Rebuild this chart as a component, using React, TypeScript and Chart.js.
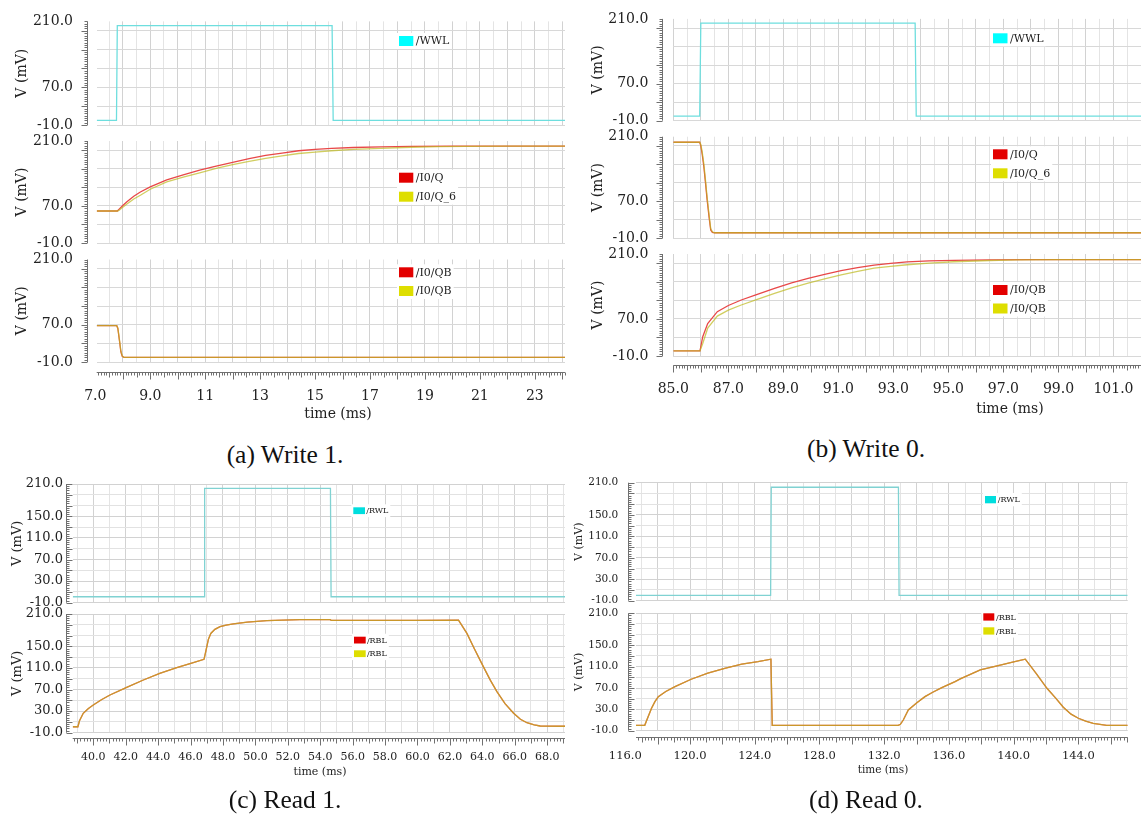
import React, { useEffect, useRef } from "react";
import { Chart, registerables } from "chart.js";

Chart.register(...registerables);
const SERIF = '"DejaVu Serif", serif';
Chart.defaults.font.family = SERIF;

// ================= DATA =================
// (a) Write 1
const A_WWL_T = [7.05, 7.77, 7.8, 15.62, 15.66, 24.1];
const A_WWL_V = [0, 0, 201, 201, 0, 0];
const A_Q_T = [7.05, 7.8, 7.85, 8.0, 8.15, 8.4, 8.64, 9.0, 9.6, 10.2, 10.8, 11.4, 12.0, 12.6, 13.2, 13.8, 14.4, 15.0, 15.6, 16.4, 17.4, 18.5, 20.0, 22.0, 24.1];
const A_Q_V = [59, 59, 62, 71, 79, 91, 100, 111, 126, 137, 147, 156, 164, 172, 179, 184, 189, 192, 194, 196, 197.5, 198.5, 199, 199, 199];
const A_Q6_T = [7.05, 7.8, 7.85, 8.0, 8.15, 8.4, 8.64, 9.0, 9.6, 10.2, 10.8, 11.4, 12.0, 12.6, 13.2, 13.8, 14.4, 15.0, 15.6, 16.4, 17.4, 18.5, 19.5, 20.5, 22.0, 24.1];
const A_Q6_V = [59, 59, 60, 67, 74, 85, 93, 106, 122, 132, 141.5, 151, 159, 166, 172.5, 178, 183, 186, 189, 192, 194, 196.5, 198, 198.5, 199, 199];
const A_QB_T = [7.05, 7.78, 7.82, 7.88, 7.93, 7.98, 8.04, 24.1];
const A_QB_V = [68, 68, 62, 35, 12, 2, 0, 0];
const A_QB2_V = [68, 68, 63, 37, 14, 3, 0, 0];

// (b) Write 0
const B_WWL_T = [85, 85.96, 86.0, 93.79, 93.83, 102];
const B_WWL_V = [0, 0, 201, 201, 0, 0];
const B_Q_T = [85, 85.96, 86.0, 86.05, 86.11, 86.17, 86.23, 86.3, 86.36, 86.42, 86.5, 102];
const B_Q_V = [198, 198, 190, 172, 145, 110, 73, 36, 8, 3, 2, 2];
const B_Q6_V = [198, 198, 193, 177, 151, 116, 79, 41, 11, 4, 2, 2];
const B_QB_T = [85, 85.97, 86.07, 86.25, 86.6, 87.0, 87.47, 88.0, 88.68, 89.3, 89.9, 90.5, 91.1, 91.7, 92.3, 92.9, 93.5, 94.3, 95.2, 96.5, 98.0, 100.0, 102];
const B_QB_V = [1, 1, 31.6, 60, 85.6, 99, 110.8, 122, 136, 147.5, 157.5, 166, 174, 180.5, 186, 190, 193, 195, 196.2, 197.5, 198, 198, 198];
const B_QB2_T = [85, 85.97, 86.07, 86.25, 86.6, 87.0, 87.47, 88.0, 88.68, 89.3, 89.9, 90.5, 91.1, 91.7, 92.3, 92.9, 93.5, 94.3, 95.2, 96.5, 97.5, 99.0, 102];
const B_QB2_V = [1, 1, 17, 50, 76, 89, 100, 111, 125, 137, 147, 156.5, 165, 172.5, 179.6, 183.5, 186.8, 190.5, 193.3, 196, 197.5, 198, 198];

// (c) Read 1
const C_RWL_T = [38.73, 46.83, 46.87, 54.63, 54.67, 69.1];
const C_RWL_V = [1, 1, 202, 202, 1, 1];
const C_RBL_T = [38.73, 39.05, 39.15, 39.38, 39.7, 40.0, 40.5, 41.03, 42.06, 43.09, 44.1, 45.15, 46.17, 46.83, 46.9, 47.0, 47.1, 47.25, 47.5, 47.82, 48.2, 48.64, 49.5, 50.7, 52.75, 54.62, 54.68, 56.0, 58.0, 60.0, 62.53, 63.05, 63.5, 64.07, 64.5, 64.9, 65.4, 65.93, 66.35, 66.75, 67.2, 67.57, 69.1];
const C_RBL_V = [1, 1, 12, 26, 35, 41.3, 51, 59.9, 74, 87.7, 100, 110.5, 119.7, 126, 135, 149, 163, 174, 181.5, 186.5, 189.5, 191.5, 195, 197.6, 199.5, 199.5, 198, 198, 198, 198, 198.5, 174, 146, 112, 87, 66, 44, 26, 15, 8.5, 4.5, 2.4, 2];

// (d) Read 0
const D_RWL_T = [116.66, 124.98, 125.02, 132.88, 132.92, 147.05];
const D_RWL_V = [0, 0, 201.5, 201.5, 0, 0];
const D_RBL_T = [116.66, 117.2, 117.41, 117.62, 117.83, 118.04, 118.5, 119.07, 120.07, 121.1, 122.14, 123.2, 124.2, 125.0, 125.04, 125.08, 132.87, 133.0, 133.18, 133.49, 134.0, 134.52, 135.0, 135.56, 136.38, 136.7, 137.94, 139.17, 140.0, 140.72, 141.4, 142.06, 142.6, 143.07, 143.55, 144.0, 144.45, 144.92, 145.75, 147.05];
const D_RBL_V = [0, 0, 16, 32, 44.5, 53.8, 63.5, 72.5, 86.4, 97.7, 107, 114.6, 119.5, 124, 60, 0, 0, 2, 10, 28.8, 42, 53.8, 62, 70.7, 82, 87, 104, 113, 119, 124, 97, 69.5, 51, 33.9, 21, 13.3, 8, 3.9, 0, 0];

// tick labels
const A_X_TICKS = [7, 9, 11, 13, 15, 17, 19, 21, 23];
const A_X_LABELS = ["7.0", "9.0", "11", "13", "15", "17", "19", "21", "23"];
const B_X_TICKS = [85, 87, 89, 91, 93, 95, 97, 99, 101];
const B_X_LABELS = ["85.0", "87.0", "89.0", "91.0", "93.0", "95.0", "97.0", "99.0", "101.0"];
const C_X_TICKS = [40, 42, 44, 46, 48, 50, 52, 54, 56, 58, 60, 62, 64, 66, 68];
const C_X_LABELS = ["40.0", "42.0", "44.0", "46.0", "48.0", "50.0", "52.0", "54.0", "56.0", "58.0", "60.0", "62.0", "64.0", "66.0", "68.0"];
const D_X_TICKS = [116, 120, 124, 128, 132, 136, 140, 144];
const D_X_LABELS = ["116.0", "120.0", "124.0", "128.0", "132.0", "136.0", "140.0", "144.0"];
const AB_Y_TICKS = [210, 70, -10];
const AB_Y_LABELS = ["210.0", "70.0", "-10.0"];
const AB_Y_GRID = [-10, 30, 70, 110, 150, 190];
const CD_Y_TICKS = [210, 150, 110, 70, 30, -10];
const CD_Y_LABELS = ["210.0", "150.0", "110.0", "70.0", "30.0", "-10.0"];
const CD_Y_GRID = [-10, 10, 30, 50, 70, 90, 110, 130, 150, 170, 190, 210];

// ================= STYLE =================
const CYAN_LINE = "rgb(110,222,222)";
const CYAN_LINE_CD = "rgb(128,210,210)";
const RED_LINE = "rgb(232,72,72)";
const YEL_LINE = "rgba(190,185,30,0.7)";
const CYAN_SW = "#00ffff";
const CYAN_SW_CD = "#00dede";
const RED_SW = "#e30000";
const YEL_SW = "#dede00";

type Series = { label: string; t: number[]; v: number[]; color: string; swatch: string };
type SubDef = { T: number; B: number; series: Series[]; legend: { x: number; y: number; dy: number } };
type PanelDef = {
  x0: number; plotL: number; plotR: number; padR: number;
  xMin: number; xMax: number; xGrid: number; xGridMajor: number;
  xMinor: number; xMid: number; xMajor: number;
  xTicks: number[]; xLabels: string[];
  yGrid: number[]; yTicks: number[]; yLabels: string[]; yDarkGrid: boolean;
  yMinor: number; yMajor: number; yTickDir: number;
  yAxisX: number; xAxisGap: number; yLabelRight: number; xLabelCY: number;
  xTitle: [number, number]; yTitleX: number;
  yTickFont: number; xTickFont: number; yTitleFont: number; xTitleFont: number;
  legFont: number; legW: number; legH: number; legGap: number;
  subs: SubDef[];
};

const ser = (label: string, t: number[], v: number[], color: string, swatch: string): Series => ({ label, t, v, color, swatch });

const PANELS: PanelDef[] = [
  {
    x0: 0, plotL: 96.7, plotR: 565, padR: 4,
    xMin: 7.05, xMax: 24.1, xGrid: 0.5, xGridMajor: 1, xMinor: 0.1, xMid: 0.5, xMajor: 1,
    xTicks: A_X_TICKS, xLabels: A_X_LABELS,
    yGrid: AB_Y_GRID, yTicks: AB_Y_TICKS, yLabels: AB_Y_LABELS, yDarkGrid: false,
    yMinor: 5, yMajor: 40, yTickDir: -1,
    yAxisX: 87, xAxisGap: 9.7, yLabelRight: 73, xLabelCY: 396,
    xTitle: [338, 414], yTitleX: 22,
    yTickFont: 14, xTickFont: 14, yTitleFont: 14, xTitleFont: 14,
    legFont: 11, legW: 14.3, legH: 10, legGap: 2.5,
    subs: [
      { T: 21.4, B: 125, series: [ser("/WWL", A_WWL_T, A_WWL_V, CYAN_LINE, CYAN_SW)], legend: { x: 399, y: 36, dy: 19 } },
      { T: 141, B: 243, series: [ser("/I0/Q", A_Q_T, A_Q_V, RED_LINE, RED_SW), ser("/I0/Q_6", A_Q6_T, A_Q6_V, YEL_LINE, YEL_SW)], legend: { x: 399, y: 172.7, dy: 19 } },
      { T: 259.5, B: 362, series: [ser("/I0/QB", A_QB_T, A_QB_V, RED_LINE, RED_SW), ser("/I0/QB", A_QB_T, A_QB2_V, YEL_LINE, YEL_SW)], legend: { x: 399, y: 267.3, dy: 18.7 } },
    ],
  },
  {
    x0: 575, plotL: 673.3, plotR: 1141, padR: 0,
    xMin: 85, xMax: 102, xGrid: 0.5, xGridMajor: 1, xMinor: 0.1, xMid: 0.5, xMajor: 1,
    xTicks: B_X_TICKS, xLabels: B_X_LABELS,
    yGrid: AB_Y_GRID, yTicks: AB_Y_TICKS, yLabels: AB_Y_LABELS, yDarkGrid: false,
    yMinor: 5, yMajor: 40, yTickDir: -1,
    yAxisX: 662.3, xAxisGap: 9, yLabelRight: 648.3, xLabelCY: 389,
    xTitle: [1010, 409], yTitleX: 598,
    yTickFont: 14, xTickFont: 14, yTitleFont: 14, xTitleFont: 14,
    legFont: 11, legW: 14.5, legH: 10, legGap: 2.5,
    subs: [
      { T: 18.9, B: 120.7, series: [ser("/WWL", B_WWL_T, B_WWL_V, CYAN_LINE, CYAN_SW)], legend: { x: 993, y: 33.3, dy: 19 } },
      { T: 136.7, B: 238.3, series: [ser("/I0/Q", B_Q_T, B_Q_V, RED_LINE, RED_SW), ser("/I0/Q_6", B_Q_T, B_Q6_V, YEL_LINE, YEL_SW)], legend: { x: 993, y: 149.3, dy: 19 } },
      { T: 254, B: 356, series: [ser("/I0/QB", B_QB_T, B_QB_V, RED_LINE, RED_SW), ser("/I0/QB", B_QB2_T, B_QB2_V, YEL_LINE, YEL_SW)], legend: { x: 993, y: 285, dy: 18.5 } },
    ],
  },
  {
    x0: 0, plotL: 72.7, plotR: 565, padR: 4,
    xMin: 38.73, xMax: 69.1, xGrid: 1, xGridMajor: 2, xMinor: 0.2, xMid: 1, xMajor: 2,
    xTicks: C_X_TICKS, xLabels: C_X_LABELS,
    yGrid: CD_Y_GRID, yTicks: CD_Y_TICKS, yLabels: CD_Y_LABELS, yDarkGrid: true,
    yMinor: 4, yMajor: 20, yTickDir: 1,
    yAxisX: 66, xAxisGap: 5.3, yLabelRight: 63, xLabelCY: 756.7,
    xTitle: [320, 771.7], yTitleX: 17.5,
    yTickFont: 13, xTickFont: 11, yTitleFont: 13, xTitleFont: 11,
    legFont: 8, legW: 11.7, legH: 6.8, legGap: 1.2,
    subs: [
      { T: 484, B: 602.7, series: [ser("/RWL", C_RWL_T, C_RWL_V, CYAN_LINE_CD, CYAN_SW_CD)], legend: { x: 353.3, y: 507.3, dy: 14 } },
      { T: 614, B: 732.7, series: [ser("/RBL", C_RBL_T, C_RBL_V, RED_LINE, RED_SW), ser("/RBL", C_RBL_T, C_RBL_V, YEL_LINE, YEL_SW)], legend: { x: 354, y: 636.7, dy: 13.6 } },
    ],
  },
  {
    x0: 568, plotL: 636, plotR: 1127.7, padR: 4,
    xMin: 116.66, xMax: 147.05, xGrid: 1, xGridMajor: 2, xMinor: 0.2, xMid: 1, xMajor: 2,
    xTicks: D_X_TICKS, xLabels: D_X_LABELS,
    yGrid: CD_Y_GRID, yTicks: CD_Y_TICKS, yLabels: CD_Y_LABELS, yDarkGrid: true,
    yMinor: 4, yMajor: 20, yTickDir: 1,
    yAxisX: 628.3, xAxisGap: 6, yLabelRight: 618.3, xLabelCY: 756,
    xTitle: [883, 770.7], yTitleX: 579.5,
    yTickFont: 10.5, xTickFont: 11.5, yTitleFont: 11, xTitleFont: 10.5,
    legFont: 8, legW: 11, legH: 7.3, legGap: 1.7,
    subs: [
      { T: 482.7, B: 600.7, series: [ser("/RWL", D_RWL_T, D_RWL_V, CYAN_LINE_CD, CYAN_SW_CD)], legend: { x: 985, y: 496, dy: 14 } },
      { T: 613.3, B: 730.7, series: [ser("/RBL", D_RBL_T, D_RBL_V, RED_LINE, RED_SW), ser("/RBL", D_RBL_T, D_RBL_V, YEL_LINE, YEL_SW)], legend: { x: 983.3, y: 613.3, dy: 14 } },
    ],
  },
];

const CAPTIONS = [
  { text: "(a) Write 1.", cx: 285, cy: 455 },
  { text: "(b) Write 0.", cx: 866, cy: 449 },
  { text: "(c) Read 1.", cx: 285, cy: 800 },
  { text: "(d) Read 0.", cx: 866, cy: 800 },
];

// ================= PLUGIN =================
const isMult = (v: number, step: number, base = 0) => {
  const r = (v - base) / step;
  return Math.abs(r - Math.round(r)) < 1e-6;
};

const decorPlugin = {
  id: "decor",
  afterDatasetsDraw(chart: any, _args: any, o: any) {
    const { ctx, chartArea: ca } = chart;
    const xs = chart.scales.x;
    const ys = chart.scales.y;
    ctx.save();
    ctx.strokeStyle = o.axisColor;
    ctx.lineWidth = 1;
    // offset y axis
    const ax = Math.round(ca.left - o.yGap) + 0.5;
    const yt = ys.getPixelForValue(ys.max);
    const yb = ys.getPixelForValue(ys.min);
    ctx.beginPath();
    ctx.moveTo(ax, yt);
    ctx.lineTo(ax, yb);
    const ny = Math.round((ys.max - ys.min) / o.yMinor);
    for (let i = 0; i <= ny; i++) {
      const v = ys.min + i * o.yMinor;
      const p = Math.round(ys.getPixelForValue(v)) + 0.5;
      const len = isMult(v, o.yMajor, ys.min) ? 6 : 3;
      ctx.moveTo(ax, p);
      ctx.lineTo(ax + o.yTickDir * len, p);
    }
    ctx.stroke();
    // offset x axis
    if (o.xAxis) {
      const ay = Math.round(ca.bottom + o.xGap) + 0.5;
      ctx.beginPath();
      ctx.moveTo(ca.left, ay);
      ctx.lineTo(ca.right, ay);
      const start = Math.ceil(xs.min / o.xMinor - 1e-6);
      const end = Math.floor(xs.max / o.xMinor + 1e-6);
      for (let k = start; k <= end; k++) {
        const v = k * o.xMinor;
        const p = Math.round(xs.getPixelForValue(v)) + 0.5;
        let len = 3;
        if (isMult(v, o.xMajor)) len = 7;
        else if (isMult(v, o.xMid)) len = 5;
        ctx.moveTo(p, ay);
        ctx.lineTo(p, ay + len);
      }
      ctx.stroke();
      ctx.fillStyle = "#222";
      ctx.font = `${o.xTitleFont}px ${SERIF}`;
      ctx.textAlign = "center";
      ctx.textBaseline = "middle";
      ctx.fillText("time (ms)", o.xTitleX, o.xTitleY);
    }
    // legend
    const lg = o.legend;
    ctx.font = `${lg.font}px ${SERIF}`;
    const ds = chart.data.datasets;
    let maxW = 0;
    ds.forEach((d: any) => { maxW = Math.max(maxW, ctx.measureText(d.label).width); });
    ctx.fillStyle = "#ffffff";
    ctx.fillRect(lg.x - 2, lg.y - 3, lg.w + lg.gap + maxW + 4, (ds.length - 1) * lg.dy + lg.h + 6);
    ds.forEach((d: any, i: number) => {
      const y = lg.y + i * lg.dy;
      ctx.fillStyle = d.swatch;
      ctx.fillRect(lg.x, y, lg.w, lg.h);
      ctx.fillStyle = "#222";
      ctx.textAlign = "left";
      ctx.textBaseline = "middle";
      ctx.fillText(d.label, lg.x + lg.w + lg.gap, y + lg.h / 2 + 0.5);
    });
    ctx.restore();
  },
};

// ================= CHART =================
function SubChart({ p, s, last }: { p: PanelDef; s: SubDef; last: boolean }) {
  const ref = useRef<HTMLCanvasElement>(null);
  const ct = Math.floor(s.T - 10);
  const bottomSpace = last ? 70 : 10;
  const ch = Math.ceil(s.B + bottomSpace) - ct;
  const cl = p.x0;
  const cw = Math.ceil(p.plotR + p.padR) - cl;

  useEffect(() => {
    const padTop = s.T - ct;
    const padRight = cl + cw - p.plotR;
    const yAxisW = p.plotL - cl;
    const below = ct + ch - s.B;
    const xAxisH = last ? below : 0;
    const padBottom = last ? 0 : below;

    const gridStart = Math.ceil(p.xMin / p.xGrid - 1e-6);
    const gridEnd = Math.floor(p.xMax / p.xGrid + 1e-6);
    const xGridVals: number[] = [];
    for (let k = gridStart; k <= gridEnd; k++) xGridVals.push(+(k * p.xGrid).toFixed(4));
    const xTickVals = Array.from(new Set([...xGridVals, ...p.xTicks])).sort((a, b) => a - b);
    const xLabelMap = new Map<string, string>();
    p.xTicks.forEach((v, i) => xLabelMap.set(v.toFixed(3), p.xLabels[i]));
    const yTickVals = Array.from(new Set([...p.yGrid, ...p.yTicks])).sort((a, b) => a - b);
    const yLabelMap = new Map<string, string>();
    p.yTicks.forEach((v, i) => yLabelMap.set(v.toFixed(3), p.yLabels[i]));
    const yGridSet = new Set(p.yGrid.map((v) => v.toFixed(3)));
    const yTickSet = new Set(p.yTicks.map((v) => v.toFixed(3)));

    const xLabelPad = p.xLabelCY - p.xTickFont * 0.6 - s.B;
    const yTitleLH = p.yTitleFont * 1.2;

    const chart = new Chart(ref.current as HTMLCanvasElement, {
      type: "line",
      data: {
        datasets: s.series.map((se, i) => ({
          label: se.label,
          data: se.t.map((t, k) => ({ x: t, y: se.v[k] })),
          borderColor: se.color,
          backgroundColor: se.color,
          borderWidth: 1.3,
          pointRadius: 0,
          fill: false,
          tension: 0,
          order: s.series.length - i,
          swatch: se.swatch,
        })) as any,
      },
      options: {
        animation: false,
        responsive: false,
        maintainAspectRatio: false,
        devicePixelRatio: 1,
        layout: { padding: { left: 0, top: padTop, right: padRight, bottom: padBottom } },
        plugins: {
          legend: { display: false },
          tooltip: { enabled: false },
          decor: {
            axisColor: "#707070",
            yGap: p.plotL - p.yAxisX,
            yMinor: p.yMinor,
            yMajor: p.yMajor,
            yTickDir: p.yTickDir,
            xAxis: last,
            xGap: p.xAxisGap,
            xMinor: p.xMinor,
            xMid: p.xMid,
            xMajor: p.xMajor,
            xTitleX: p.xTitle[0] - cl,
            xTitleY: p.xTitle[1] - ct,
            xTitleFont: p.xTitleFont,
            legend: { x: s.legend.x - cl, y: s.legend.y - ct, dy: s.legend.dy, w: p.legW, h: p.legH, gap: p.legGap, font: p.legFont },
          },
        } as any,
        scales: {
          x: {
            type: "linear",
            min: p.xMin,
            max: p.xMax,
            afterBuildTicks: (sc: any) => { sc.ticks = xTickVals.map((v) => ({ value: v })); },
            afterFit: (sc: any) => {
              sc.height = xAxisH;
              sc.paddingLeft = 0;
              sc.paddingRight = 0;
              sc.paddingTop = 0;
              sc.paddingBottom = 0;
            },
            grid: {
              drawTicks: false,
              lineWidth: 1,
              color: (c: any) => {
                const v = c.tick?.value;
                if (v === undefined || v < p.xMin - 1e-6 || v > p.xMax + 1e-6) return "rgba(0,0,0,0)";
                if (!isMult(v, p.xGrid)) return "rgba(0,0,0,0)";
                return isMult(v, p.xGridMajor) ? "#d2d2d2" : "#e4e4e4";
              },
            },
            border: { display: false },
            ticks: {
              display: last,
              autoSkip: false,
              maxRotation: 0,
              minRotation: 0,
              padding: xLabelPad,
              color: "#222",
              font: { size: p.xTickFont, family: SERIF },
              callback: (v: any) => xLabelMap.get(Number(v).toFixed(3)) ?? "",
            },
          },
          y: {
            type: "linear",
            min: -10,
            max: 210,
            afterBuildTicks: (sc: any) => { sc.ticks = yTickVals.map((v) => ({ value: v })); },
            afterFit: (sc: any) => {
              sc.width = yAxisW;
              sc.paddingTop = 0;
              sc.paddingBottom = 0;
              sc.paddingLeft = 0;
              sc.paddingRight = 0;
            },
            grid: {
              drawTicks: false,
              lineWidth: 1,
              color: (c: any) => {
                const v = c.tick?.value;
                if (v === undefined) return "rgba(0,0,0,0)";
                const k = Number(v).toFixed(3);
                if (!yGridSet.has(k)) return "rgba(0,0,0,0)";
                if (p.yDarkGrid && yTickSet.has(k)) return "#d2d2d2";
                return p.yDarkGrid ? "#e2e2e2" : "#d8d8d8";
              },
            },
            border: { display: false },
            ticks: {
              autoSkip: false,
              padding: p.plotL - p.yLabelRight,
              color: "#222",
              font: { size: p.yTickFont, family: SERIF },
              callback: (v: any) => yLabelMap.get(Number(v).toFixed(3)) ?? "",
            },
            title: {
              display: true,
              text: "V (mV)",
              color: "#222",
              font: { size: p.yTitleFont, lineHeight: 1.2, family: SERIF },
              padding: { top: p.yTitleX - cl - yTitleLH / 2, bottom: 0 },
            },
          },
        },
      },
      plugins: [decorPlugin as any],
    });
    return () => chart.destroy();
  }, []);

  return (
    <canvas
      ref={ref}
      width={cw}
      height={ch}
      style={{ position: "absolute", left: cl, top: ct, width: cw, height: ch }}
    />
  );
}

export default function App() {
  return (
    <div style={{ position: "absolute", left: 0, top: 0, width: 1141, height: 819, background: "#fff", overflow: "hidden" }}>
      {PANELS.map((p, pi) =>
        p.subs.map((s, si) => <SubChart key={`${pi}-${si}`} p={p} s={s} last={si === p.subs.length - 1} />)
      )}
      {CAPTIONS.map((c) => (
        <div
          key={c.text}
          style={{
            position: "absolute",
            left: c.cx - 100,
            width: 200,
            top: c.cy - 14,
            height: 28,
            lineHeight: "28px",
            textAlign: "center",
            fontFamily: '"Liberation Serif", "Times New Roman", serif',
            fontSize: 25.5,
            color: "#111",
          }}
        >
          {c.text}
        </div>
      ))}
    </div>
  );
}
